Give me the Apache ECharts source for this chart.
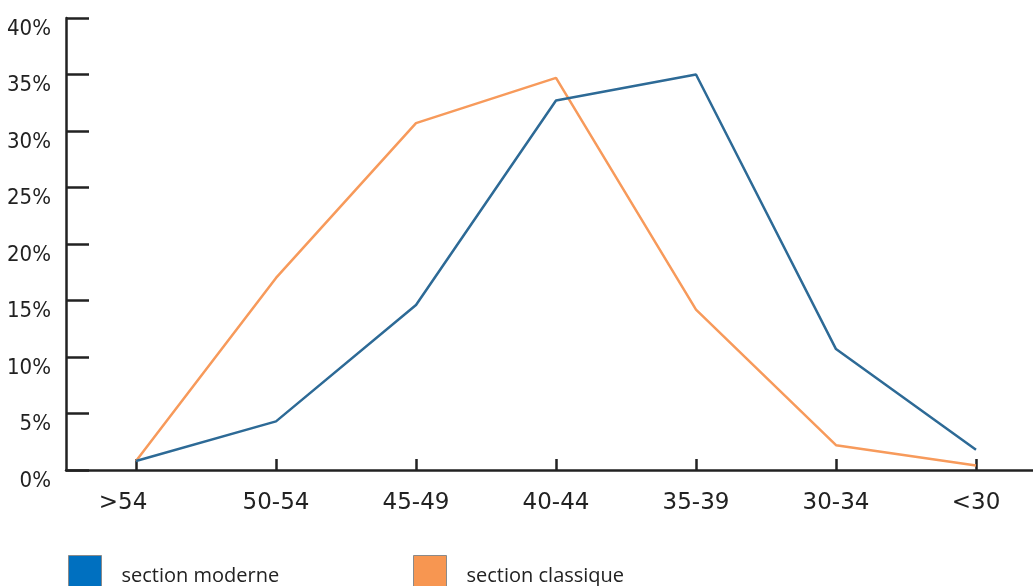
<!DOCTYPE html>
<html>
<head>
<meta charset="utf-8">
<script src="https://cdn.jsdelivr.net/npm/echarts@6/dist/echarts.min.js"></script>
<style>
html,body{margin:0;padding:0;background:#fff;}
#chart{width:1033px;height:586px;}
</style>
</head>
<body>
<div id="chart"></div>
<script>
var categories = ['>54', '50-54', '45-49', '40-44', '35-39', '30-34', '<30'];
var moderne = [0.8, 4.3, 14.6, 32.7, 35.0, 10.7, 1.8];
var classique = [0.8, 17.0, 30.7, 34.7, 14.2, 2.2, 0.4];
var seriesNames = ['section moderne', 'section classique'];
var yTicks = [0, 5, 10, 15, 20, 25, 30, 35, 40];

var axisColor = '#222';
var xData = categories.map(function (c, i) {
  return i === 0 ? { value: c, textStyle: { padding: [0, 26, 0, 0] } } : c;
});
var chart = echarts.init(document.getElementById('chart'));
chart.setOption({
  animation: false,
  backgroundColor: '#fff',
  grid: { left: 66, top: 18, height: 452, width: 980, containLabel: false, outerBoundsMode: 'none' },
  xAxis: {
    type: 'category',
    data: xData,
    boundaryGap: true,
    axisLine: { show: true, lineStyle: { color: axisColor, width: 2.5 } },
    axisTick: { show: true, inside: true, length: 11, alignWithLabel: true, interval: 0, lineStyle: { color: axisColor, width: 2.5 } },
    axisLabel: {
      margin: 22, color: '#222', fontFamily: 'DejaVu Sans', fontSize: 23, interval: 0
    },
    splitLine: { show: false }
  },
  yAxis: {
    type: 'value',
    min: yTicks[0], max: yTicks[yTicks.length - 1], interval: 5,
    axisLine: { show: true, lineStyle: { color: axisColor, width: 2.5 } },
    axisTick: { show: true, inside: true, length: 23, lineStyle: { color: axisColor, width: 2.5 } },
    axisLabel: {
      margin: 15, color: '#222', fontFamily: '"DejaVu Sans Condensed", sans-serif', fontSize: 22,
      verticalAlign: 'top', lineHeight: 22,
      formatter: function (v) { return v + '%'; }
    },
    splitLine: { show: false }
  },
  legend: [
    {
      left: 68, top: 555, padding: 0, itemWidth: 33, itemHeight: 42,
      data: [{ name: seriesNames[0], icon: 'rect', itemStyle: { color: '#0070c0', borderColor: '#8a8a8a', borderWidth: 1 } }],
      textStyle: { fontFamily: '"Open Sans"', fontSize: 20, color: '#222', padding: [0, 0, 0, 15] },
      selectedMode: false
    },
    {
      left: 413, top: 555, padding: 0, itemWidth: 33, itemHeight: 42,
      data: [{ name: seriesNames[1], icon: 'rect', itemStyle: { color: '#f79651', borderColor: '#8a8a8a', borderWidth: 1 } }],
      textStyle: { fontFamily: '"Open Sans"', fontSize: 20, color: '#222', padding: [0, 0, 0, 15] },
      selectedMode: false
    }
  ],
  series: [
    {
      name: seriesNames[1], type: 'line', data: classique, symbol: 'none',
      lineStyle: { color: '#f79a5b', width: 2.5 }, itemStyle: { color: '#f79a5b' }
    },
    {
      name: seriesNames[0], type: 'line', data: moderne, symbol: 'none',
      lineStyle: { color: '#2d6a96', width: 2.5 }, itemStyle: { color: '#2d6a96' }
    }
  ]
});
</script>
</body>
</html>
